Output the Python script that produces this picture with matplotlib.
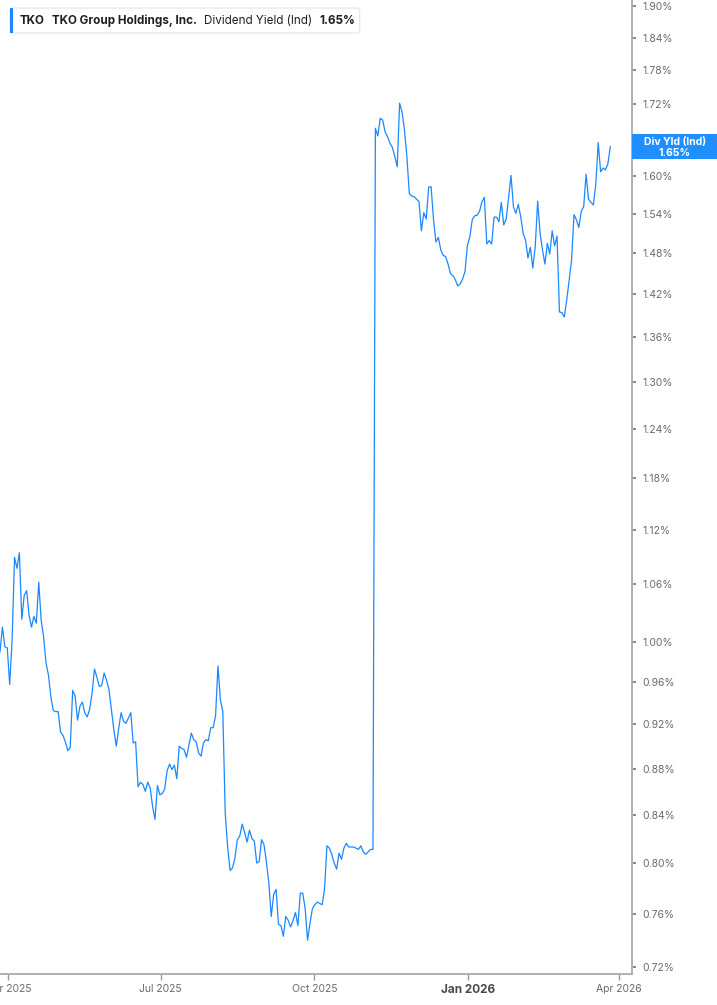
import matplotlib
matplotlib.use("Agg")
import matplotlib.pyplot as plt
import matplotlib.dates as mdates
from matplotlib.patches import Rectangle, FancyBboxPatch
from matplotlib.ticker import FixedLocator, NullLocator
import pandas as pd

plt.rcParams["font.family"] = ["Inter", "DejaVu Sans"]

# chart data
ticker = "TKO"
company = "TKO Group Holdings, Inc."
metric = "Dividend Yield (Ind)"
badge_title = "Div Yld (Ind)"
start_date = "2025-03-27"
end_date = "2026-03-27"

# daily dividend yield in %, Mar 2025 -> Mar 2026
div_yield = [
    0.990, 1.015, 0.995, 0.994, 0.958, 1.002, 1.089, 1.077, 1.094, 1.023,
    1.048, 1.053, 1.027, 1.015, 1.026, 1.019, 1.062, 1.022, 1.005, 0.979,
    0.967, 0.946, 0.933, 0.932, 0.932, 0.913, 0.910, 0.904, 0.896, 0.899,
    0.952, 0.947, 0.924, 0.937, 0.941, 0.931, 0.927, 0.934, 0.949, 0.973,
    0.965, 0.956, 0.957, 0.969, 0.962, 0.953, 0.934, 0.915, 0.900, 0.916,
    0.931, 0.923, 0.921, 0.926, 0.931, 0.903, 0.904, 0.864, 0.868, 0.866,
    0.860, 0.868, 0.863, 0.847, 0.836, 0.865, 0.857, 0.858, 0.862, 0.878,
    0.884, 0.879, 0.883, 0.871, 0.900, 0.898, 0.897, 0.890, 0.901, 0.912,
    0.906, 0.904, 0.894, 0.891, 0.903, 0.906, 0.905, 0.917, 0.917, 0.928,
    0.976, 0.943, 0.932, 0.841, 0.813, 0.794, 0.796, 0.804, 0.819, 0.822,
    0.832, 0.825, 0.817, 0.827, 0.820, 0.818, 0.800, 0.801, 0.819, 0.815,
    0.801, 0.784, 0.758, 0.775, 0.779, 0.752, 0.751, 0.743, 0.758, 0.755,
    0.750, 0.755, 0.761, 0.751, 0.776, 0.776, 0.764, 0.740, 0.753, 0.764,
    0.767, 0.769, 0.768, 0.767, 0.779, 0.814, 0.812, 0.807, 0.800, 0.795,
    0.808, 0.803, 0.812, 0.816, 0.813, 0.813, 0.813, 0.812, 0.811, 0.814,
    0.809, 0.807, 0.809, 0.811, 0.811,
    1.679, 1.666, 1.696, 1.693, 1.673, 1.665, 1.654, 1.647, 1.632, 1.615,
    1.722, 1.707, 1.676, 1.632, 1.572, 1.568, 1.567, 1.563, 1.559, 1.514,
    1.542, 1.532, 1.582, 1.583, 1.531, 1.497, 1.504, 1.485, 1.477, 1.475,
    1.464, 1.450, 1.447, 1.441, 1.432, 1.435, 1.442, 1.453, 1.492, 1.505,
    1.531, 1.537, 1.538, 1.544, 1.559, 1.566, 1.494, 1.499, 1.494, 1.535,
    1.535, 1.528, 1.558, 1.523, 1.532, 1.565, 1.601, 1.551, 1.541, 1.555,
    1.536, 1.510, 1.500, 1.473, 1.489, 1.458, 1.490, 1.560, 1.510, 1.485,
    1.464, 1.495, 1.479, 1.514, 1.491, 1.506, 1.395, 1.394, 1.388, 1.412,
    1.440, 1.470, 1.539, 1.531, 1.519, 1.544, 1.551, 1.603, 1.563, 1.558,
    1.554, 1.586, 1.655, 1.607, 1.613, 1.610, 1.620, 1.648,
]

y_ticks = [0.72, 0.76, 0.80, 0.84, 0.88, 0.92, 0.96, 1.00, 1.06, 1.12,
           1.18, 1.24, 1.30, 1.36, 1.42, 1.48, 1.54, 1.60, 1.66, 1.72,
           1.78, 1.84, 1.90]
hidden_tick = 1.66  # sits under the value badge
x_ticks = ["2025-04-01", "2025-07-01", "2025-10-01", "2026-01-01", "2026-04-01"]
x_tick_labels = ["Apr 2025", "Jul 2025", "Oct 2025", "Jan 2026", "Apr 2026"]

LINE = "#1a88ff"
GREY = "#6b6b6b"
SPINE = "#b0b0b0"

W, H = 717, 1005


def fx(px):
    return px / W


def fy(py):
    return 1 - py / H


def main():
    dates = pd.date_range(start_date, end_date, periods=len(div_yield))

    fig = plt.figure(figsize=(W / 100, H / 100), dpi=100)
    ax = fig.add_axes([0, fy(974.3), fx(631.7), 974.3 / H])

    ax.plot(dates, div_yield, color=LINE, lw=0.9, solid_joinstyle="round")

    ax.set_yscale("log")
    ax.set_ylim(0.7150, 1.911)
    ax.set_xlim(pd.Timestamp("2025-03-27"), pd.Timestamp("2026-04-08 19:00"))

    ax.yaxis.set_major_locator(FixedLocator(y_ticks))
    ax.yaxis.set_minor_locator(NullLocator())
    ax.set_yticklabels(["" if v == hidden_tick else f"{v:.2f}%" for v in y_ticks])
    ax.yaxis.tick_right()

    ax.xaxis.set_major_locator(FixedLocator(mdates.date2num(pd.to_datetime(x_ticks))))
    ax.set_xticklabels(x_tick_labels)

    for side in ("left", "top"):
        ax.spines[side].set_visible(False)
    for side in ("right", "bottom"):
        ax.spines[side].set_color(SPINE)
        ax.spines[side].set_linewidth(1.4)

    ax.tick_params(axis="y", which="major", direction="out", length=3, width=1.2,
                   color="#777777", labelsize=7.5, labelcolor=GREY, pad=4.5)
    ax.tick_params(axis="x", which="major", direction="out", length=4, width=1,
                   color="#999999", labelsize=7.5, labelcolor=GREY, pad=3)
    for lbl in ax.get_xticklabels():
        if lbl.get_text().startswith("Jan"):
            lbl.set_fontweight("bold")
            lbl.set_fontsize(8.5)
            lbl.set_color("#4a4a4a")

    # legend box top-left, pieces laid out one after the other
    fig.canvas.draw()
    renderer = fig.canvas.get_renderer()
    parts = [(ticker, "bold"), (company, "bold"), (metric, "normal"), ("1.65%", "bold")]
    gap = 7
    xpos = 20
    for txt, weight in parts:
        t = fig.text(fx(xpos), fy(21), txt, fontsize=8.4, fontweight=weight,
                     color="#1e1e1e", ha="left", va="center", zorder=7)
        xpos += t.get_window_extent(renderer).width + gap
    box_right = xpos - gap + 5
    fig.patches.append(FancyBboxPatch((fx(10), fy(33)), fx(box_right - 10), 25 / H,
                                      boxstyle="round,pad=0,rounding_size=0.004",
                                      transform=fig.transFigure, facecolor="white",
                                      edgecolor="#e3e3e3", lw=0.8, zorder=5))
    fig.patches.append(Rectangle((fx(10), fy(33)), fx(3), 25 / H,
                                 transform=fig.transFigure, facecolor=LINE,
                                 edgecolor="none", zorder=6))

    # current value badge on the right axis
    _, ypix = ax.transData.transform((mdates.date2num(dates[-1]), div_yield[-1]))
    ytop = H - ypix
    fig.patches.append(Rectangle((fx(631.7), fy(ytop + 12.5)), 1 - fx(631.7), 25 / H,
                                 transform=fig.transFigure, facecolor="#1f8fff",
                                 edgecolor="none", zorder=5))
    fig.text(fx(675), fy(ytop - 5), badge_title, fontsize=7.5, fontweight="bold",
             color="white", ha="center", va="center", zorder=7)
    fig.text(fx(675), fy(ytop + 6), f"{div_yield[-1]:.2f}%", fontsize=7.5,
             fontweight="bold", color="white", ha="center", va="center", zorder=7)

    fig.savefig("out.png", dpi=100)


if __name__ == "__main__":
    main()
